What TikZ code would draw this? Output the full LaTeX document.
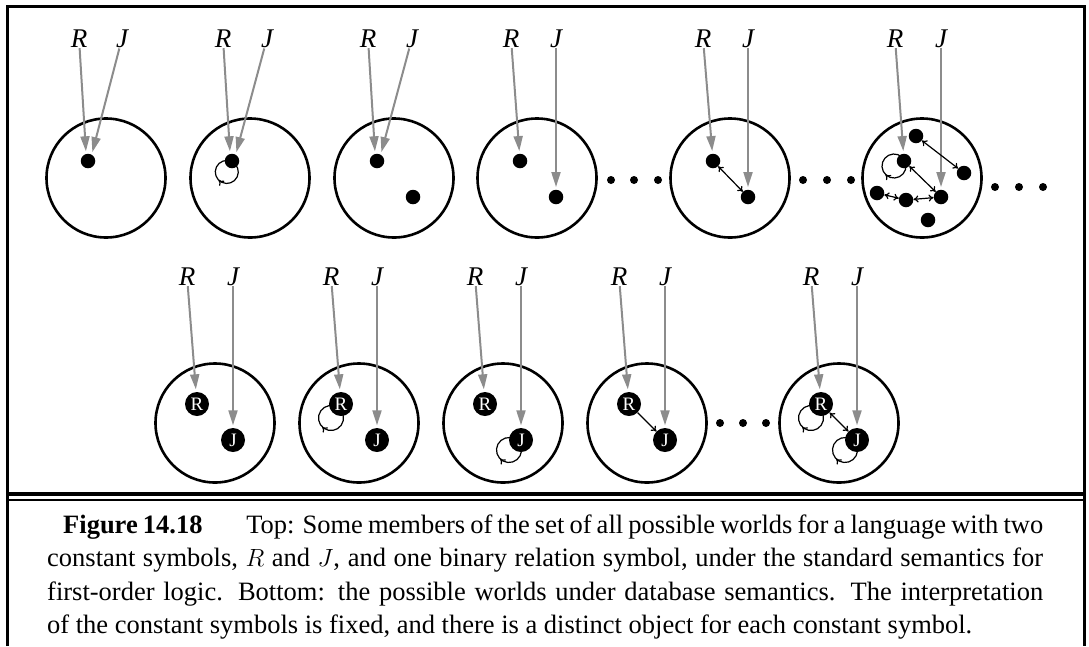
\documentclass[tikz,border=0pt]{standalone}
\usepackage{fontspec}
\setmainfont{Liberation Serif}
\usetikzlibrary{arrows.meta,decorations.markings}
\pgfdeclarelayer{bg}
\pgfsetlayers{bg,main}
\tikzset{
  world/.style={draw=black, line width=2.6pt, circle, minimum size=119pt, inner sep=0pt},
  dot/.style={circle, fill=black, inner sep=0pt, minimum size=14.5pt},
  obj/.style={circle, fill=black, inner sep=0pt, minimum size=24pt, text=white, font=\fontsize{19}{19}\selectfont},
  edot/.style={circle, fill=black, inner sep=0pt, minimum size=8pt},
  lab/.style={font=\fontsize{27}{27}\selectfont\itshape, inner sep=1pt, anchor=base},
  ptr/.style={draw=black!45, line width=2pt, -{Triangle[length=15pt,width=9pt]}, shorten >=2.5pt},
  relboth/.style={line width=1.2pt, {To[length=5pt,width=7pt]}-{To[length=5pt,width=7pt]}},
  relone/.style={line width=1.2pt, -{To[length=5pt,width=7pt]}},
  selfloop/.style={line width=1.2pt, postaction={decorate},
    decoration={markings, mark=at position #1 with {\arrow{To[length=5pt,width=7pt]}}}},
  frameline/.style={line width=3pt}
}
\begin{document}
\begin{tikzpicture}[x=1pt,y=1pt]
\useasboundingbox (0,0) rectangle (1089,-646);
% frame
\draw[frameline] (7.5,-646) -- (7.5,-6) -- (1084.5,-6) -- (1084.5,-646);
\draw[line width=3.4pt] (7.5,-494) -- (1084.5,-494);
\draw[line width=1.7pt] (7.5,-500) -- (1084.5,-500);

% ---------- top row ----------
% world 1
\node[world] (w1) at (106,-178) {};
\node[dot] (w1a) at (88,-161) {};
\node[lab] (w1R) at (79,-47) {R};
\node[lab] (w1J) at (122,-47) {J};
\draw[ptr] (w1R) -- (w1a.105);
\draw[ptr] (w1J) -- (w1a.60);
% world 2
\node[world] (w2) at (250,-178) {};
\node[dot] (w2a) at (232,-161) {};
\node[lab] (w2R) at (223,-47) {R};
\node[lab] (w2J) at (267,-47) {J};
\draw[ptr] (w2R) -- (w2a.105);
\draw[ptr] (w2J) -- (w2a.60);
\begin{pgfonlayer}{bg}
\draw[selfloop=0.554] ([shift={(-0.27,-0.57)}]w2a.center) arc[start angle=64.5, end angle=-295.5, radius=11.5pt];
\end{pgfonlayer}
% world 3
\node[world] (w3) at (394,-178) {};
\node[dot] (w3a) at (377,-161) {};
\node[dot] (w3b) at (413,-197) {};
\node[lab] (w3R) at (368,-47) {R};
\node[lab] (w3J) at (412,-47) {J};
\draw[ptr] (w3R) -- (w3a.105);
\draw[ptr] (w3J) -- (w3a.60);
% world 4
\node[world] (w4) at (537,-178) {};
\node[dot] (w4a) at (520,-161) {};
\node[dot] (w4b) at (556,-197) {};
\node[lab] (w4R) at (511,-47) {R};
\node[lab] (w4J) at (556,-47) {J};
\draw[ptr] (w4R) -- (w4a);
\draw[ptr] (w4J) -- (w4b);
% dots
\node[edot] (e1) at (611,-180) {};
\node[edot] (e2) at (634,-180) {};
\node[edot] (e3) at (658,-180) {};
% world 5
\node[world] (w5) at (730,-178) {};
\node[dot] (w5a) at (713,-161) {};
\node[dot] (w5b) at (748,-197) {};
\node[lab] (w5R) at (703,-47) {R};
\node[lab] (w5J) at (748,-47) {J};
\draw[ptr] (w5R) -- (w5a);
\draw[ptr] (w5J) -- (w5b);
\draw[relboth] (w5a) -- (w5b);
% dots
\node[edot] (e4) at (803,-180) {};
\node[edot] (e5) at (827,-180) {};
\node[edot] (e6) at (851,-180) {};
% world 6
\node[world] (w6) at (922,-178) {};
\node[dot] (w6a) at (916,-136) {};
\node[dot] (w6b) at (904,-161) {};
\node[dot] (w6c) at (964,-173) {};
\node[dot] (w6d) at (877,-193) {};
\node[dot] (w6e) at (906,-200) {};
\node[dot] (w6f) at (941,-197) {};
\node[dot] (w6g) at (928,-220) {};
\node[lab] (w6R) at (895,-47) {R};
\node[lab] (w6J) at (941,-47) {J};
\draw[ptr] (w6R) -- (w6b);
\draw[ptr] (w6J) -- (w6f);
\draw[relboth] (w6a) -- (w6c);
\draw[relboth] (w6b) -- (w6f);
\draw[relboth] (w6d) -- (w6e);
\draw[relboth] (w6e) -- (w6f);
\begin{pgfonlayer}{bg}
\draw[selfloop=0.449] ([shift={(0.73,0.37)}]w6b.center) arc[start angle=26.6, end angle=-333.4, radius=12pt];
\end{pgfonlayer}
% dots
\node[edot] (e7) at (995,-187) {};
\node[edot] (e8) at (1019,-187) {};
\node[edot] (e9) at (1043,-187) {};

% ---------- bottom row ----------
% world B1
\node[world] (b1) at (215,-423) {};
\node[obj] (b1R) at (197,-404) {R};
\node[obj] (b1J) at (233,-440) {J};
\node[lab] (b1r) at (187,-285) {R};
\node[lab] (b1j) at (233,-285) {J};
\draw[ptr] (b1r) -- (b1R);
\draw[ptr] (b1j) -- (b1J);
% world B2
\node[world] (b2) at (359,-423) {};
\node[obj] (b2R) at (341,-404) {R};
\node[obj] (b2J) at (377,-440) {J};
\node[lab] (b2r) at (331,-285) {R};
\node[lab] (b2j) at (377,-285) {J};
\draw[ptr] (b2r) -- (b2R);
\draw[ptr] (b2j) -- (b2J);
\begin{pgfonlayer}{bg}
\draw[selfloop=0.526] ([shift={(-2.74,-3.82)}]b2R.center) arc[start angle=54.5, end angle=-305.5, radius=12.5pt];
\end{pgfonlayer}
% world B3
\node[world] (b3) at (503,-423) {};
\node[obj] (b3R) at (485,-404) {R};
\node[obj] (b3J) at (521,-440) {J};
\node[lab] (b3r) at (475,-285) {R};
\node[lab] (b3j) at (521,-285) {J};
\draw[ptr] (b3r) -- (b3R);
\draw[ptr] (b3j) -- (b3J);
\begin{pgfonlayer}{bg}
\draw[selfloop=0.486] ([shift={(-2.4,-2.0)}]b3J.center) arc[start angle=39.8, end angle=-320.2, radius=12.5pt];
\end{pgfonlayer}
% world B4
\node[world] (b4) at (647,-423) {};
\node[obj] (b4R) at (629,-404) {R};
\node[obj] (b4J) at (665,-440) {J};
\node[lab] (b4r) at (619,-285) {R};
\node[lab] (b4j) at (665,-285) {J};
\draw[ptr] (b4r) -- (b4R);
\draw[ptr] (b4j) -- (b4J);
\draw[relone] (b4R) -- (b4J);
% dots
\node[edot] (e10) at (720,-423) {};
\node[edot] (e11) at (743,-423) {};
\node[edot] (e12) at (766,-423) {};
% world B5
\node[world] (b5) at (839,-423) {};
\node[obj] (b5R) at (821,-404) {R};
\node[obj] (b5J) at (857,-440) {J};
\node[lab] (b5r) at (811,-285) {R};
\node[lab] (b5j) at (857,-285) {J};
\draw[ptr] (b5r) -- (b5R);
\draw[ptr] (b5j) -- (b5J);
\draw[relboth] (b5R) -- (b5J);
\begin{pgfonlayer}{bg}
\draw[selfloop=0.526] ([shift={(-2.74,-3.82)}]b5R.center) arc[start angle=54.5, end angle=-305.5, radius=12.5pt];
\draw[selfloop=0.486] ([shift={(-2.4,-2.0)}]b5J.center) arc[start angle=39.8, end angle=-320.2, radius=12.5pt];
\end{pgfonlayer}

% ---------- caption ----------
\node[anchor=base west, inner sep=0pt, text width=996pt, align=justify,
  font=\fontsize{26.5}{33.5}\selectfont] (cap) at (47,-533)
{\spaceskip=0.25em plus 0.2em minus 0.12em
\hspace*{16pt}\textbf{Figure 14.18}\hspace{1.65em}Top: Some members of the set of all possible worlds for a language with two\linebreak
constant symbols, $R$ and $J$, and one binary relation symbol, under the standard semantics for\linebreak
first-order logic.  Bottom:  the possible worlds under database semantics.  The interpretation\linebreak
of the constant symbols is fixed, and there is a distinct object for each constant symbol.};
\end{tikzpicture}
\end{document}
